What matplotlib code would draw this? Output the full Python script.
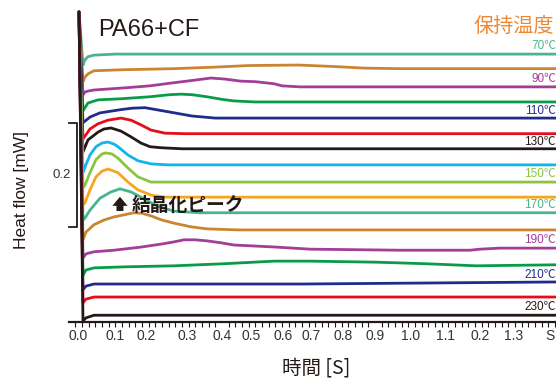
import matplotlib
matplotlib.use("Agg")
import matplotlib.pyplot as plt
from matplotlib.ticker import MultipleLocator

plt.rcParams['font.family'] = ['Liberation Sans', 'Noto Sans CJK JP', 'DejaVu Sans']

# holding temperatures, top to bottom
temps = [70, 80, 90, 100, 110, 120, 130, 140, 150, 160, 170, 180, 190, 200, 210, 220, 230]
colors = ['#48B58C', '#C98532', '#A23D98', '#0A9B48', '#1F2C8C', '#E60C1A', '#231916',
          '#13B4EA', '#8DC33F', '#F7A51E', '#48B58C', '#C98532', '#A23D98', '#0A9B48',
          '#1F2C8C', '#E60C1A', '#231916']

# time [s] and heat flow [mW] (curves stacked with offsets)
t70 = [-0.009, 0.003, 0.009, 0.018, 0.036, 0.10, 0.5, 1.0, 1.43]
h70 = [0.596, 0.494, 0.504, 0.510, 0.513, 0.515, 0.515, 0.515, 0.515]
t80 = [-0.009, 0.003, 0.009, 0.018, 0.036, 0.126, 0.276, 0.40, 0.50, 0.65, 0.76, 0.85, 0.955, 1.43]
h80 = [0.596, 0.462, 0.471, 0.477, 0.483, 0.485, 0.487, 0.490, 0.493, 0.494, 0.491, 0.488, 0.487, 0.487]
t90 = [-0.009, 0.003, 0.009, 0.018, 0.036, 0.126, 0.204, 0.276, 0.339, 0.387, 0.429, 0.477,
       0.52, 0.577, 0.60, 0.655, 1.43]
h90 = [0.596, 0.437, 0.442, 0.444, 0.446, 0.450, 0.454, 0.460, 0.465, 0.469, 0.467, 0.463,
       0.462, 0.458, 0.454, 0.452, 0.452]
t100 = [-0.009, 0.003, 0.018, 0.048, 0.114, 0.204, 0.264, 0.297, 0.33, 0.375, 0.42, 0.456, 0.52, 1.43]
h100 = [0.596, 0.406, 0.421, 0.427, 0.429, 0.433, 0.437, 0.438, 0.437, 0.433, 0.428, 0.425, 0.423, 0.423]
t110 = [-0.009, 0.003, 0.024, 0.054, 0.114, 0.150, 0.189, 0.26, 0.33, 0.40, 1.43]
h110 = [0.596, 0.383, 0.394, 0.402, 0.408, 0.411, 0.412, 0.404, 0.396, 0.392, 0.392]
t120 = [-0.009, 0.003, 0.024, 0.048, 0.078, 0.117, 0.147, 0.177, 0.207, 0.249, 0.309, 1.43]
h120 = [0.596, 0.352, 0.371, 0.381, 0.388, 0.392, 0.388, 0.379, 0.369, 0.363, 0.362, 0.362]
t130 = [-0.009, 0.003, 0.018, 0.048, 0.066, 0.087, 0.117, 0.147, 0.177, 0.204, 0.237, 0.30, 1.43]
h130 = [0.596, 0.327, 0.350, 0.365, 0.371, 0.373, 0.367, 0.356, 0.344, 0.337, 0.335, 0.333, 0.333]
t140 = [-0.009, 0.003, 0.009, 0.024, 0.042, 0.060, 0.078, 0.096, 0.108, 0.138, 0.168, 0.207, 0.26, 1.43]
h140 = [0.596, 0.288, 0.298, 0.321, 0.337, 0.344, 0.346, 0.342, 0.337, 0.321, 0.310, 0.304, 0.302, 0.302]
t150 = [-0.009, 0.003, 0.009, 0.024, 0.042, 0.060, 0.072, 0.090, 0.108, 0.138, 0.168, 0.207, 1.43]
h150 = [0.596, 0.258, 0.263, 0.287, 0.312, 0.323, 0.325, 0.323, 0.315, 0.296, 0.279, 0.269, 0.269]
t160 = [-0.009, 0.003, 0.009, 0.024, 0.042, 0.060, 0.078, 0.096, 0.108, 0.138, 0.168, 0.207,
        0.249, 1.43]
h160 = [0.596, 0.225, 0.229, 0.254, 0.279, 0.290, 0.294, 0.290, 0.287, 0.269, 0.254, 0.244,
        0.240, 0.240]
t170 = [-0.009, 0.003, 0.009, 0.024, 0.054, 0.087, 0.114, 0.147, 0.177, 0.225, 0.276, 0.354, 1.43]
h170 = [0.596, 0.196, 0.200, 0.215, 0.238, 0.250, 0.256, 0.250, 0.240, 0.223, 0.213, 0.210, 0.210]
t180 = [-0.009, 0.003, 0.012, 0.036, 0.066, 0.096, 0.126, 0.156, 0.180, 0.207, 0.240, 0.276,
        0.327, 0.375, 0.474, 1.43]
h180 = [0.596, 0.158, 0.173, 0.187, 0.196, 0.202, 0.206, 0.210, 0.209, 0.204, 0.196, 0.190,
        0.183, 0.179, 0.177, 0.177]
t190 = [-0.009, 0.003, 0.012, 0.036, 0.096, 0.177, 0.24, 0.276, 0.306, 0.34, 0.375, 0.42,
        0.456, 0.52, 0.583, 0.685, 0.955, 1.165, 1.195, 1.255, 1.43]
h190 = [0.596, 0.123, 0.131, 0.135, 0.138, 0.144, 0.150, 0.154, 0.158, 0.158, 0.156, 0.152,
        0.148, 0.146, 0.144, 0.140, 0.138, 0.138, 0.140, 0.142, 0.142]
t200 = [-0.009, 0.003, 0.012, 0.036, 0.126, 0.276, 0.426, 0.577, 0.685, 0.883, 1.033, 1.183, 1.43]
h200 = [0.596, 0.090, 0.100, 0.104, 0.106, 0.108, 0.112, 0.117, 0.117, 0.115, 0.112, 0.108, 0.110]
t210 = [-0.009, 0.003, 0.012, 0.036, 0.655, 1.43]
h210 = [0.596, 0.062, 0.069, 0.073, 0.073, 0.077]
t220 = [-0.009, 0.003, 0.012, 0.036, 1.43]
h220 = [0.596, 0.037, 0.044, 0.048, 0.048]
t230 = [-0.009, 0.003, 0.012, 0.036, 1.43]
h230 = [0.596, 0.002, 0.008, 0.013, 0.013]

times = [t70, t80, t90, t100, t110, t120, t130, t140, t150, t160, t170, t180, t190, t200,
         t210, t220, t230]
flows = [h70, h80, h90, h100, h110, h120, h130, h140, h150, h160, h170, h180, h190, h200,
         h210, h220, h230]

# labelled temperatures on the right
label_temps = [70, 90, 110, 130, 150, 170, 190, 210, 230]
label_y = [0.531, 0.467, 0.406, 0.346, 0.285, 0.224, 0.157, 0.091, 0.028]
label_colors = ['#4DB88F', '#A23D98', '#1F2C8C', '#231916', '#8DC33F', '#48B58C', '#A23D98',
                '#1F2C8C', '#231916']

tick_pos = [-0.011, 0.099, 0.194, 0.315, 0.420, 0.507, 0.604, 0.688, 0.784, 0.880, 0.985,
            1.090, 1.195, 1.297, 1.405]
tick_labels = ['0.0', '0.1', '0.2', '0.3', '0.4', '0.5', '0.6', '0.7', '0.8', '0.9', '1.0',
               '1.1', '0.2', '1.3', 'S']

fig = plt.figure(figsize=(5.56, 3.78), dpi=100)
ax = fig.add_axes([69 / 556, 56 / 378, 487 / 556, 322 / 378])

for t, h, c in zip(times, flows, colors):
    ax.plot(t, h, color=c, lw=2.0, solid_capstyle='round', solid_joinstyle='round')

ax.set_xlim(-0.039, 1.423)
ax.set_ylim(0, 0.619)

for s in ['top', 'right', 'left']:
    ax.spines[s].set_visible(False)
ax.spines['bottom'].set_linewidth(1.6)
ax.spines['bottom'].set_color('#231916')
ax.set_yticks([])
ax.set_xticks(tick_pos)
ax.set_xticklabels(tick_labels, fontsize=10, color='#333333')
ax.xaxis.set_minor_locator(MultipleLocator(0.02))
ax.tick_params(axis='x', which='major', length=0, pad=5)
ax.tick_params(axis='x', which='minor', direction='out', length=3.5, width=0.8, color='#231916')

# scale bar 0.2 mW
ax.plot([-0.039, -0.015, -0.015, -0.039], [0.383, 0.383, 0.183, 0.183], color='#231916',
        lw=1.3, clip_on=False)
ax.text(-0.060, 0.283, '0.2', fontsize=9.5, ha='center', va='center', color='#333333')

for lt, ly, lc in zip(label_temps, label_y, label_colors):
    ax.text(1.423, ly, f'{lt}℃', fontsize=8.5, ha='right', va='center', color=lc)

ax.text(0.048, 0.5615, 'PA66+CF', fontsize=17, ha='left', va='center', color='#231916')
fig.text(554 / 556, 1 - 26 / 378, '保持温度', fontsize=14.5, ha='right', va='center',
         color='#EE8732', family='Noto Sans CJK JP')

ax.annotate('', xy=(0.114, 0.246), xytext=(0.114, 0.208),
            arrowprops=dict(arrowstyle='simple,head_width=1.1,head_length=0.65,tail_width=0.5',
                            color='#231916', lw=0))
ax.text(0.150, 0.225, '結晶化ピーク', fontsize=13.5, ha='left', va='center',
        color='#231916', family='Noto Sans CJK JP', fontweight='bold')

fig.text(22 / 556, 1 - 190 / 378, 'Heat flow [mW]', rotation=90, fontsize=12.5,
         ha='center', va='center', color='#231916')
fig.text(316 / 556, 1 - 368 / 378, '時間 [S]', fontsize=14, ha='center', va='center',
         color='#231916', family='Noto Sans CJK JP')

fig.savefig('out.png', dpi=100)
